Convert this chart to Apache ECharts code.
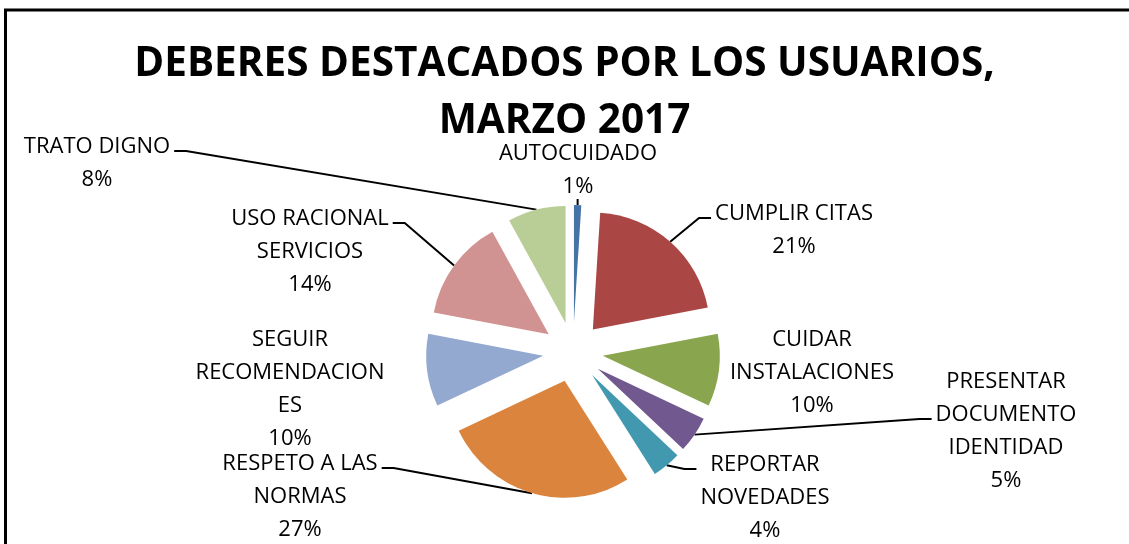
<!DOCTYPE html>
<html>
<head>
<meta charset="utf-8">
<script src="https://cdn.jsdelivr.net/npm/echarts@6/dist/echarts.min.js"></script>
<style>
  html, body { margin: 0; padding: 0; background: #fff; }
  #chart { width: 1129px; height: 544px; }
</style>
</head>
<body>
<div id="chart"></div>
<script>
// data
const categories = [
  'AUTOCUIDADO',
  'CUMPLIR CITAS',
  'CUIDAR\nINSTALACIONES',
  'PRESENTAR\nDOCUMENTO\nIDENTIDAD',
  'REPORTAR\nNOVEDADES',
  'RESPETO A LAS\nNORMAS',
  'SEGUIR\nRECOMENDACION\nES',
  'USO RACIONAL\nSERVICIOS',
  'TRATO DIGNO'
]
const percents = [1, 21, 10, 5, 4, 27, 10, 14, 8]
const colors = ['#4572A7', '#AA4643', '#89A54E', '#71588F', '#4198AF', '#DB843D', '#93A9CF', '#D19392', '#B9CD96']

// label placement as in the excel chart: centre x, y of the line the leader attaches to
const labelPos = [
  [578, 154], [794, 214], [812, 340], [1006, 415], [765, 465],
  [300, 464], [290, 340], [310, 219], [97, 147]
]
const anchorLine = [0, 0, 0, 1, 0, 0, 0, 0, 0]
const noLine = [2, 6]

const center = [573, 352]
const radius = 117
const explode = 30
const LH = 33

const chart = echarts.init(document.getElementById('chart'))

const nLines = (i) => categories[i].split('\n').length + 1

const option = {
  animation: false,
  title: {
    text: 'DEBERES DESTACADOS POR LOS USUARIOS,\nMARZO 2017',
    left: 'center',
    top: 31,
    textStyle: {
      fontFamily: 'Open Sans',
      fontWeight: 'bold',
      fontSize: 40.5,
      lineHeight: 57,
      color: '#000'
    }
  },
  graphic: [
    {
      type: 'rect',
      shape: { x: 5.5, y: 10, width: 1200, height: 600 },
      style: { fill: 'none', stroke: '#000', lineWidth: 3 },
      silent: true
    }
  ],
  series: [
    // exploded slices
    {
      type: 'pie',
      center: center,
      radius: radius,
      startAngle: 90,
      clockwise: true,
      selectedMode: 'multiple',
      selectedOffset: explode,
      emphasis: { disabled: true },
      label: { show: false },
      labelLine: { show: false },
      data: categories.map((name, i) => ({
        name: name,
        value: percents[i],
        selected: true,
        itemStyle: { color: colors[i] }
      }))
    },
    // invisible pie reaching the outer edge of the exploded slices, carries labels + leaders
    {
      type: 'pie',
      center: center,
      radius: radius + explode,
      startAngle: 90,
      clockwise: true,
      silent: true,
      avoidLabelOverlap: false,
      emphasis: { disabled: true },
      itemStyle: { color: 'rgba(0,0,0,0)' },
      label: {
        show: true,
        formatter: (p) => p.name + '\n' + p.value + '%',
        fontFamily: 'Open Sans',
        fontSize: 22,
        lineHeight: LH,
        color: '#000',
        align: 'center'
      },
      labelLine: {
        show: true,
        lineStyle: { color: '#000', width: 2 }
      },
      labelLayout: (params) => {
        const i = params.dataIndex
        const pos = labelPos[i]
        const h = nLines(i) * LH
        // shift so the anchor line lands on pos[1]
        const cy = pos[1] - LH / 2 - anchorLine[i] * LH + h / 2
        const out = { x: pos[0], y: cy, align: 'center', verticalAlign: 'middle' }
        const pts = params.labelLinePoints
        if (pts && noLine.indexOf(i) < 0) {
          const p0 = pts[0]
          const half = params.labelRect.width / 2
          if (Math.abs(p0[0] - pos[0]) < half) {
            // label sits right above the slice
            const endY = pos[1] + (nLines(i) - 1 - anchorLine[i]) * LH + 12
            out.labelLinePoints = [p0, [p0[0], (p0[1] + endY) / 2], [p0[0], endY]]
          } else {
            const side = p0[0] > pos[0] ? 1 : -1
            const ax = pos[0] + side * (half + 4)
            const ay = pos[1] + 4
            out.labelLinePoints = [p0, [ax + side * 12, ay], [ax, ay]]
          }
        }
        return out
      },
      data: categories.map((name, i) => ({
        name: name,
        value: percents[i],
        labelLine: { show: noLine.indexOf(i) < 0 }
      }))
    }
  ]
}

chart.setOption(option)
window.addEventListener('resize', () => { chart.resize() })
</script>
</body>
</html>
